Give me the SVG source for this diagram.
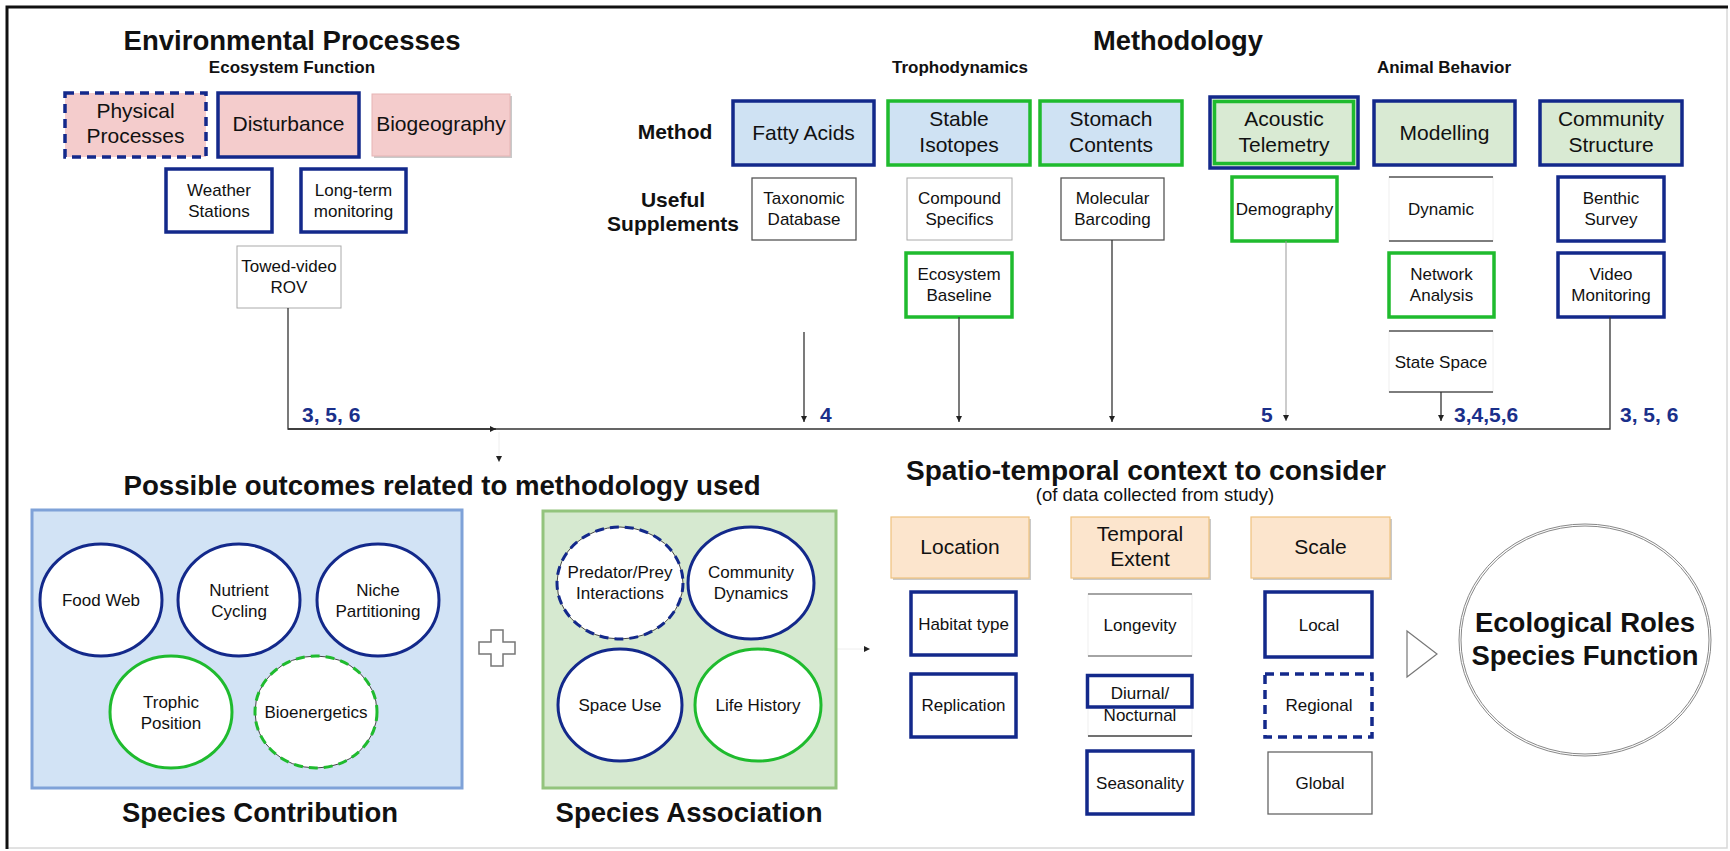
<svg xmlns="http://www.w3.org/2000/svg" width="1730" height="851" viewBox="0 0 1730 851">
<defs>
<style>
text{font-family:"Liberation Sans",Arial,sans-serif;fill:#111;text-anchor:middle}
.h1{font-size:27px;font-weight:bold}
.h2{font-size:17px;font-weight:bold}
.lab{font-size:21px;font-weight:bold}
.m{font-size:21px}
.s{font-size:17px}
.num{font-size:21px;font-weight:bold;fill:#1a2f8a;text-anchor:start}
.nv{fill:#fff;stroke:#13298b;stroke-width:3.5}
.gr{fill:#fff;stroke:#1fbb2e;stroke-width:3.5}
.thin{fill:#fff;stroke:#555;stroke-width:1.3}
.pale{fill:#fff;stroke:#aaa;stroke-width:1}
.faint{fill:#fff;stroke:#f0f0f0;stroke-width:1}
.hl{stroke:#555;stroke-width:1.5}
.shadow{fill:#c9c9c9}
.conn{fill:none;stroke:#333;stroke-width:1.3}
</style>
<marker id="ah" viewBox="0 0 10 10" refX="10" refY="5" markerWidth="6" markerHeight="6" markerUnits="userSpaceOnUse" orient="auto">
<path d="M0,0 L10,5 L0,10 Z" fill="#222"/>
</marker>
</defs>

<rect x="0" y="0" width="1730" height="851" fill="#fff"/>
<g id="frame">
<rect x="7" y="7" width="1720" height="841" fill="none" stroke="#d8d8d8" stroke-width="1.5"/>
<path d="M7,849 V7 H1728" fill="none" stroke="#111" stroke-width="3"/>
</g>

<!-- Environmental Processes -->
<g id="env-title">
<text class="h1" x="292" y="50" textLength="337" lengthAdjust="spacingAndGlyphs">Environmental Processes</text>
<text class="h2" x="292" y="73">Ecosystem Function</text>
</g>
<g id="physical-processes">
<rect x="65" y="93" width="141" height="64" fill="#f4cccc" stroke="#13298b" stroke-width="3.5" stroke-dasharray="9,6"/>
<text class="m" x="135.5" y="118">Physical</text>
<text class="m" x="135.5" y="143">Processes</text>
</g>
<g id="disturbance">
<rect x="218" y="93" width="141" height="64" fill="#f4cccc" stroke="#13298b" stroke-width="3.5"/>
<text class="m" x="288.5" y="131">Disturbance</text>
</g>
<g id="biogeography">
<rect class="shadow" x="374" y="96" width="138" height="62"/>
<rect x="372" y="94" width="138" height="62" fill="#f4cccc" stroke="#e6b4b4" stroke-width="1"/>
<text class="m" x="441" y="131">Biogeography</text>
</g>
<g id="weather-stations">
<rect class="nv" x="166" y="169" width="106" height="63"/>
<text class="s" x="219" y="196">Weather</text>
<text class="s" x="219" y="217">Stations</text>
</g>
<g id="long-term-monitoring">
<rect class="nv" x="301" y="169" width="105" height="63"/>
<text class="s" x="353.5" y="196">Long-term</text>
<text class="s" x="353.5" y="217">monitoring</text>
</g>
<g id="towed-video">
<rect class="pale" x="237" y="246" width="104" height="62" stroke="#999"/>
<text class="s" x="289" y="272">Towed-video</text>
<text class="s" x="289" y="293">ROV</text>
</g>

<!-- Methodology -->
<g id="meth-title">
<text class="h1" x="1178" y="50" textLength="170" lengthAdjust="spacingAndGlyphs">Methodology</text>
<text class="h2" x="960" y="73">Trophodynamics</text>
<text class="h2" x="1444" y="73">Animal Behavior</text>
<text class="lab" x="675" y="139">Method</text>
<text class="lab" x="673" y="207">Useful</text>
<text class="lab" x="673" y="231">Supplements</text>
</g>
<g id="fatty-acids">
<rect x="733" y="101" width="141" height="64" fill="#cfe2f3" stroke="#13298b" stroke-width="3.5"/>
<text class="m" x="803.5" y="140">Fatty Acids</text>
</g>
<g id="stable-isotopes">
<rect x="888" y="101" width="142" height="64" fill="#cfe2f3" stroke="#1fbb2e" stroke-width="3.5"/>
<text class="m" x="959" y="126">Stable</text>
<text class="m" x="959" y="152">Isotopes</text>
</g>
<g id="stomach-contents">
<rect x="1040" y="101" width="142" height="64" fill="#cfe2f3" stroke="#1fbb2e" stroke-width="3.5"/>
<text class="m" x="1111" y="126">Stomach</text>
<text class="m" x="1111" y="152">Contents</text>
</g>
<g id="acoustic-telemetry">
<rect x="1210" y="97" width="148" height="71" fill="#d9ead3" stroke="#13298b" stroke-width="3.5"/>
<rect x="1214.5" y="101.5" width="139" height="62" fill="none" stroke="#1fbb2e" stroke-width="3.5"/>
<text class="m" x="1284" y="126">Acoustic</text>
<text class="m" x="1284" y="152">Telemetry</text>
</g>
<g id="modelling">
<rect x="1374" y="101" width="141" height="64" fill="#d9ead3" stroke="#13298b" stroke-width="3.5"/>
<text class="m" x="1444.5" y="140">Modelling</text>
</g>
<g id="community-structure">
<rect x="1540" y="101" width="142" height="64" fill="#d9ead3" stroke="#13298b" stroke-width="3.5"/>
<text class="m" x="1611" y="126">Community</text>
<text class="m" x="1611" y="152">Structure</text>
</g>

<g id="taxonomic-database">
<rect class="thin" x="752" y="178" width="104" height="62"/>
<text class="s" x="804" y="204">Taxonomic</text>
<text class="s" x="804" y="225">Database</text>
</g>
<g id="compound-specifics">
<rect class="pale" x="907" y="178" width="105" height="62"/>
<text class="s" x="959.5" y="204">Compound</text>
<text class="s" x="959.5" y="225">Specifics</text>
</g>
<g id="ecosystem-baseline">
<rect class="gr" x="906" y="253" width="106" height="64"/>
<text class="s" x="959" y="280">Ecosystem</text>
<text class="s" x="959" y="301">Baseline</text>
</g>
<g id="molecular-barcoding">
<rect class="thin" x="1061" y="178" width="103" height="62"/>
<text class="s" x="1112.5" y="204">Molecular</text>
<text class="s" x="1112.5" y="225">Barcoding</text>
</g>
<g id="demography">
<rect class="gr" x="1232" y="177" width="105" height="64"/>
<text class="s" x="1284.5" y="215">Demography</text>
</g>
<g id="dynamic">
<rect class="faint" x="1389" y="177" width="104" height="64"/>
<line class="hl" x1="1389" y1="177" x2="1493" y2="177"/>
<line class="hl" x1="1389" y1="241" x2="1493" y2="241"/>
<text class="s" x="1441" y="215">Dynamic</text>
</g>
<g id="network-analysis">
<rect class="gr" x="1389" y="253" width="105" height="64"/>
<text class="s" x="1441.5" y="280">Network</text>
<text class="s" x="1441.5" y="301">Analysis</text>
</g>
<g id="state-space">
<rect class="faint" x="1389" y="331" width="104" height="61"/>
<line class="hl" x1="1389" y1="331" x2="1493" y2="331"/>
<line class="hl" x1="1389" y1="392" x2="1493" y2="392"/>
<text class="s" x="1441" y="368">State Space</text>
</g>
<g id="benthic-survey">
<rect class="nv" x="1558" y="177" width="106" height="64"/>
<text class="s" x="1611" y="204">Benthic</text>
<text class="s" x="1611" y="225">Survey</text>
</g>
<g id="video-monitoring">
<rect class="nv" x="1558" y="253" width="106" height="64"/>
<text class="s" x="1611" y="280">Video</text>
<text class="s" x="1611" y="301">Monitoring</text>
</g>

<!-- Connectors -->
<g id="connectors">
<path class="conn" d="M288,308 V429 H1610 V317"/>
<path class="conn" d="M288,429 H496" marker-end="url(#ah)"/>
<line x1="499" y1="432" x2="499" y2="462" stroke="#eee" stroke-width="1" marker-end="url(#ah)"/>
<line class="conn" x1="804" y1="332" x2="804" y2="422" marker-end="url(#ah)"/>
<line class="conn" x1="959" y1="317" x2="959" y2="422" marker-end="url(#ah)"/>
<line class="conn" x1="1112" y1="240" x2="1112" y2="422" marker-end="url(#ah)"/>
<line x1="1286" y1="241" x2="1286" y2="421" stroke="#999" stroke-width="1" marker-end="url(#ah)"/>
<line class="conn" x1="1441" y1="392" x2="1441" y2="421" marker-end="url(#ah)"/>
<line x1="836" y1="649" x2="870" y2="649" stroke="#eee" stroke-width="1" marker-end="url(#ah)"/>
<text class="num" x="302" y="422">3, 5, 6</text>
<text class="num" x="820" y="422">4</text>
<text class="num" x="1261" y="422">5</text>
<text class="num" x="1454" y="422">3,4,5,6</text>
<text class="num" x="1620" y="422">3, 5, 6</text>
</g>

<!-- Outcomes -->
<g id="outcomes-title">
<text class="h1" x="442" y="495" textLength="637" lengthAdjust="spacingAndGlyphs">Possible outcomes related to methodology used</text>
</g>
<g id="species-contribution">
<rect x="32" y="510" width="430" height="278" fill="#d2e3f5" stroke="#7fa2d8" stroke-width="3"/>
<text class="h1" x="260" y="822" textLength="276" lengthAdjust="spacingAndGlyphs">Species Contribution</text>
</g>
<g id="food-web">
<ellipse cx="101" cy="600" rx="61" ry="56" fill="#fff" stroke="#13298b" stroke-width="3"/>
<text class="s" x="101" y="606">Food Web</text>
</g>
<g id="nutrient-cycling">
<ellipse cx="239" cy="600" rx="61" ry="56" fill="#fff" stroke="#13298b" stroke-width="3"/>
<text class="s" x="239" y="596">Nutrient</text>
<text class="s" x="239" y="617">Cycling</text>
</g>
<g id="niche-partitioning">
<ellipse cx="378" cy="600" rx="61" ry="56" fill="#fff" stroke="#13298b" stroke-width="3"/>
<text class="s" x="378" y="596">Niche</text>
<text class="s" x="378" y="617">Partitioning</text>
</g>
<g id="trophic-position">
<ellipse cx="171" cy="712" rx="61" ry="56" fill="#fff" stroke="#1fbb2e" stroke-width="3"/>
<text class="s" x="171" y="708">Trophic</text>
<text class="s" x="171" y="729">Position</text>
</g>
<g id="bioenergetics">
<ellipse cx="316" cy="712" rx="61" ry="56" fill="#fff" stroke="#444" stroke-width="1"/>
<ellipse cx="316" cy="712" rx="61" ry="56" fill="none" stroke="#1fbb2e" stroke-width="3" stroke-dasharray="9,6"/>
<text class="s" x="316" y="718">Bioenergetics</text>
</g>
<g id="plus">
<path d="M491,630 H503 V642 H515 V654 H503 V666 H491 V654 H479 V642 H491 Z" fill="#fff" stroke="#777" stroke-width="1.5"/>
</g>
<g id="species-association">
<rect x="543" y="511" width="293" height="277" fill="#d6e9d0" stroke="#93c47d" stroke-width="3"/>
<text class="h1" x="689" y="822" textLength="267" lengthAdjust="spacingAndGlyphs">Species Association</text>
</g>
<g id="predator-prey">
<ellipse cx="620" cy="583" rx="63" ry="56" fill="#fff" stroke="#444" stroke-width="1"/>
<ellipse cx="620" cy="583" rx="63" ry="56" fill="none" stroke="#13298b" stroke-width="3" stroke-dasharray="9,6"/>
<text class="s" x="620" y="578">Predator/Prey</text>
<text class="s" x="620" y="599">Interactions</text>
</g>
<g id="community-dynamics">
<ellipse cx="751" cy="583" rx="63" ry="56" fill="#fff" stroke="#13298b" stroke-width="3"/>
<text class="s" x="751" y="578">Community</text>
<text class="s" x="751" y="599">Dynamics</text>
</g>
<g id="space-use">
<ellipse cx="620" cy="705" rx="62" ry="56" fill="#fff" stroke="#13298b" stroke-width="3"/>
<text class="s" x="620" y="711">Space Use</text>
</g>
<g id="life-history">
<ellipse cx="758" cy="705" rx="63" ry="56" fill="#fff" stroke="#1fbb2e" stroke-width="3"/>
<text class="s" x="758" y="711">Life History</text>
</g>

<!-- Spatio-temporal -->
<g id="spatio-title">
<text class="h1" x="1146" y="480" textLength="480" lengthAdjust="spacingAndGlyphs">Spatio-temporal context  to consider</text>
<text x="1155" y="501" style="font-size:18.5px">(of data collected from study)</text>
</g>
<g id="location">
<rect class="shadow" x="893" y="519" width="138" height="61"/>
<rect x="891" y="517" width="138" height="61" fill="#fce5cd" stroke="#efc17e" stroke-width="1.2"/>
<text class="m" x="960" y="554">Location</text>
</g>
<g id="temporal-extent">
<rect class="shadow" x="1073" y="519" width="138" height="61"/>
<rect x="1071" y="517" width="138" height="61" fill="#fce5cd" stroke="#efc17e" stroke-width="1.2"/>
<text class="m" x="1140" y="541">Temporal</text>
<text class="m" x="1140" y="566">Extent</text>
</g>
<g id="scale">
<rect class="shadow" x="1253" y="519" width="139" height="61"/>
<rect x="1251" y="517" width="139" height="61" fill="#fce5cd" stroke="#efc17e" stroke-width="1.2"/>
<text class="m" x="1320.5" y="554">Scale</text>
</g>
<g id="habitat-type">
<rect class="nv" x="911" y="592" width="105" height="63"/>
<text class="s" x="963.5" y="630">Habitat type</text>
</g>
<g id="replication">
<rect class="nv" x="911" y="674" width="105" height="63"/>
<text class="s" x="963.5" y="711">Replication</text>
</g>
<g id="longevity">
<rect class="faint" x="1088" y="594" width="104" height="62"/>
<line x1="1088" y1="594" x2="1192" y2="594" stroke="#888" stroke-width="1.5"/>
<line x1="1088" y1="656" x2="1192" y2="656" stroke="#888" stroke-width="1.5"/>
<text class="s" x="1140" y="631">Longevity</text>
</g>
<g id="diurnal-nocturnal">
<rect class="faint" x="1088" y="675" width="104" height="61"/>
<line x1="1088" y1="736" x2="1192" y2="736" stroke="#444" stroke-width="1.3"/>
<rect x="1087.5" y="675.5" width="104.5" height="31.5" fill="none" stroke="#13298b" stroke-width="3.5"/>
<text class="s" x="1140" y="699">Diurnal/</text>
<text class="s" x="1140" y="721">Nocturnal</text>
</g>
<g id="seasonality">
<rect class="nv" x="1087" y="751" width="106" height="63"/>
<text class="s" x="1140" y="789">Seasonality</text>
</g>
<g id="local">
<rect class="nv" x="1265" y="592" width="107" height="65"/>
<text class="s" x="1319" y="631">Local</text>
</g>
<g id="regional">
<rect x="1265" y="674" width="107" height="63" fill="#fff" stroke="#13298b" stroke-width="3.5" stroke-dasharray="9,6"/>
<text class="s" x="1319" y="711">Regional</text>
</g>
<g id="global">
<rect x="1268" y="752" width="104" height="62" fill="#fff" stroke="#666" stroke-width="1.3"/>
<text class="s" x="1320" y="789">Global</text>
</g>
<g id="triangle">
<path d="M1407,631 L1437,654 L1407,677 Z" fill="#fff" stroke="#777" stroke-width="1.2"/>
</g>
<g id="ecological-roles">
<ellipse cx="1585" cy="640" rx="126" ry="116" fill="#fff" stroke="#888" stroke-width="1"/>
<ellipse cx="1585" cy="640" rx="124" ry="114" fill="none" stroke="#888" stroke-width="1"/>
<text class="h1" x="1585" y="632" textLength="220" lengthAdjust="spacingAndGlyphs">Ecological Roles</text>
<text class="h1" x="1585" y="665" textLength="227" lengthAdjust="spacingAndGlyphs">Species Function</text>
</g>
</svg>
